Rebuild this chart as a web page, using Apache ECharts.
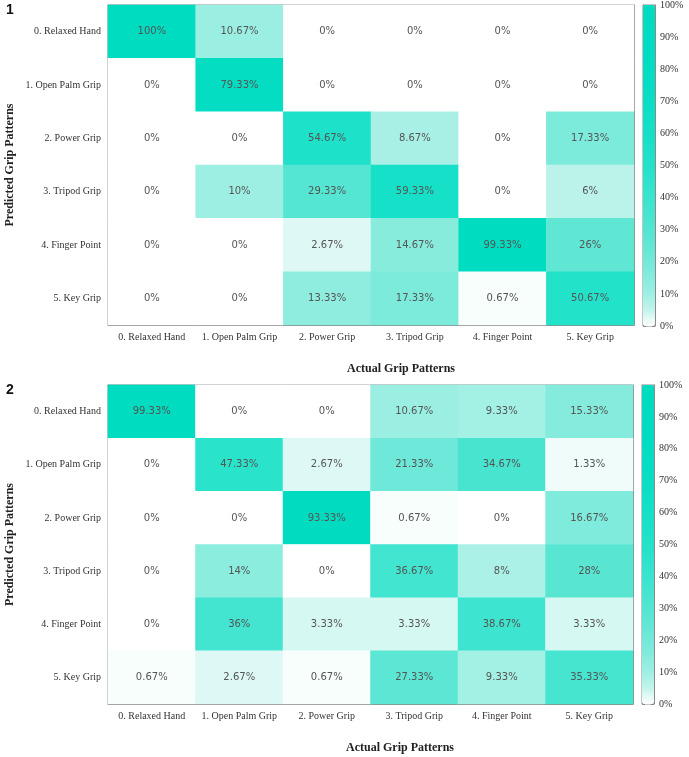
<!DOCTYPE html>
<html>
<head>
<meta charset="utf-8">
<script src="https://cdn.jsdelivr.net/npm/echarts@6/dist/echarts.min.js"></script>
<style>
  html, body { margin: 0; padding: 0; background: #fff; }
  #chart { width: 689px; height: 757px; }
</style>
</head>
<body>
<div id="chart"></div>
<script>
// grip classes, same order on both axes
var gripNames = ['0. Relaxed Hand', '1. Open Palm Grip', '2. Power Grip', '3. Tripod Grip', '4. Finger Point', '5. Key Grip'];

// confusion matrix 1: rows = predicted, columns = actual (percent)
var matrix1 = [
    [100, 10.67, 0, 0, 0, 0],
    [0, 79.33, 0, 0, 0, 0],
    [0, 0, 54.67, 8.67, 0, 17.33],
    [0, 10, 29.33, 59.33, 0, 6],
    [0, 0, 2.67, 14.67, 99.33, 26],
    [0, 0, 13.33, 17.33, 0.67, 50.67]
];

// confusion matrix 2
var matrix2 = [
    [99.33, 0, 0, 10.67, 9.33, 15.33],
    [0, 47.33, 2.67, 21.33, 34.67, 1.33],
    [0, 0, 93.33, 0.67, 0, 16.67],
    [0, 14, 0, 36.67, 8, 28],
    [0, 36, 3.33, 3.33, 38.67, 3.33],
    [0.67, 2.67, 0.67, 27.33, 9.33, 35.33]
];

// colour bar range
var scaleMin = 0;
var scaleMax = 100;
var scaleStep = 10;

// colour stops every 5 % (0 .. 100)
var rampColors = ['#ffffff', '#c2f4ec', '#9eefe3', '#86ecdd', '#72e9d9', '#62e7d5',
    '#52e6d2', '#46e5d0', '#3ae4ce', '#2ee3cc', '#24e2ca', '#1ce1c8', '#15e0c7',
    '#0fdfc6', '#0adec5', '#07ddc4', '#05ddc3', '#03dcc2', '#02dcc2', '#01dcc1', '#00dcc0'];

function toCells(m) {
    var out = [];
    for (var r = 0; r < m.length; r++) {
        for (var c = 0; c < m[r].length; c++) {
            out.push([c, r, m[r][c]]);
        }
    }
    return out;
}

var serif = 'Liberation Serif';
var frameColor = '#8a8a8a';

// one heatmap panel = 2 x axes + 2 y axes (top/right only carry ticks)
function panelAxes(gridIndex) {
    var xs = [
        {
            type: 'category', gridIndex: gridIndex, data: gripNames, position: 'bottom',
            axisLine: {lineStyle: {color: frameColor}},
            axisTick: {inside: true, alignWithLabel: true, length: 5, lineStyle: {color: frameColor}},
            axisLabel: {interval: 0, fontFamily: serif, fontSize: 10, color: '#333', margin: 7},
            splitLine: {show: false}
        },
        {
            type: 'category', gridIndex: gridIndex, data: gripNames, position: 'top',
            axisLine: {lineStyle: {color: frameColor}},
            axisTick: {inside: true, alignWithLabel: true, length: 5, lineStyle: {color: frameColor}},
            axisLabel: {show: false},
            splitLine: {show: false}
        }
    ];
    var ys = [
        {
            type: 'category', gridIndex: gridIndex, data: gripNames, inverse: true, position: 'left',
            axisLine: {lineStyle: {color: frameColor}},
            axisTick: {inside: true, alignWithLabel: true, length: 5, lineStyle: {color: frameColor}},
            axisLabel: {interval: 0, fontFamily: serif, fontSize: 10, color: '#333', margin: 7},
            name: 'Predicted Grip Patterns',
            nameLocation: 'middle',
            nameGap: 92,
            nameMoveOverlap: false,
            nameTextStyle: {fontFamily: serif, fontSize: 12, fontWeight: 'bold', color: '#222'},
            splitLine: {show: false}
        },
        {
            type: 'category', gridIndex: gridIndex, data: gripNames, inverse: true, position: 'right',
            axisLine: {lineStyle: {color: frameColor}},
            axisTick: {inside: true, alignWithLabel: true, length: 5, lineStyle: {color: frameColor}},
            axisLabel: {show: false},
            splitLine: {show: false}
        }
    ];
    return {x: xs, y: ys};
}

// colour bar scale: left ticks + right ticks with labels
function barAxes(gridIndex) {
    var xs = [{type: 'value', gridIndex: gridIndex, show: false, min: 0, max: 1}];
    var ys = [
        {
            type: 'value', gridIndex: gridIndex, min: scaleMin, max: scaleMax, interval: scaleStep, position: 'left',
            axisLine: {show: true, lineStyle: {color: frameColor}},
            axisTick: {show: true, inside: true, length: 3, lineStyle: {color: frameColor}},
            axisLabel: {show: false},
            splitLine: {show: false}
        },
        {
            type: 'value', gridIndex: gridIndex, min: scaleMin, max: scaleMax, interval: scaleStep, position: 'right',
            axisLine: {show: true, lineStyle: {color: frameColor}},
            axisTick: {show: true, inside: true, length: 3, lineStyle: {color: frameColor}},
            axisLabel: {fontFamily: serif, fontSize: 10, color: '#333', margin: 5, formatter: '{value}%'},
            splitLine: {show: false}
        }
    ];
    return {x: xs, y: ys};
}

var p1 = panelAxes(0);
var p2 = panelAxes(1);
var b1 = barAxes(2);
var b2 = barAxes(3);

var cellLabel = {
    show: true,
    fontFamily: 'DejaVu Sans',
    fontSize: 10,
    color: '#555',
    formatter: function (p) { return p.value[2] + '%'; }
};

function colorMap(seriesIndex, top, height, left) {
    return {
        type: 'continuous',
        seriesIndex: seriesIndex,
        min: scaleMin,
        max: scaleMax,
        calculable: false,
        hoverLink: false,
        text: null,
        showLabel: false,
        orient: 'vertical',
        left: left,
        top: top,
        padding: 0,
        itemWidth: 12,
        itemHeight: height,
        inRange: {color: rampColors}
    };
}

function gridBox(left, top, width, height) {
    return {
        left: left, top: top, width: width, height: height,
        show: true, borderColor: frameColor, borderWidth: 1,
        containLabel: false, outerBoundsMode: 'none'
    };
}

var option = {
    backgroundColor: '#fff',
    animation: false,
    grid: [
        gridBox(108, 5, 526, 320),
        gridBox(108, 385, 525, 319),
        gridBox(643, 5, 12, 321),
        gridBox(642, 385, 12, 319)
    ],
    xAxis: p1.x.concat(p2.x, b1.x, b2.x),
    yAxis: p1.y.concat(p2.y, b1.y, b2.y),
    visualMap: [
        colorMap(0, 5, 321, 643),
        colorMap(1, 385, 319, 642)
    ],
    series: [
        {
            type: 'heatmap', xAxisIndex: 0, yAxisIndex: 0,
            data: toCells(matrix1), label: cellLabel,
            emphasis: {disabled: true}
        },
        {
            type: 'heatmap', xAxisIndex: 2, yAxisIndex: 2,
            data: toCells(matrix2), label: cellLabel,
            emphasis: {disabled: true}
        }
    ],
    graphic: [
        {type: 'text', left: 6, top: 3, style: {text: '1', font: 'bold 14px "Liberation Sans"', fill: '#111'}},
        {type: 'text', left: 6, top: 383, style: {text: '2', font: 'bold 14px "Liberation Sans"', fill: '#111'}},
        {type: 'text', left: 347, top: 363, style: {text: 'Actual Grip Patterns', font: 'bold 12px "Liberation Serif"', fill: '#222'}},
        {type: 'text', left: 346, top: 742, style: {text: 'Actual Grip Patterns', font: 'bold 12px "Liberation Serif"', fill: '#222'}}
    ]
};

var myChart = echarts.init(document.getElementById('chart'));
myChart.setOption(option);
</script>
</body>
</html>
